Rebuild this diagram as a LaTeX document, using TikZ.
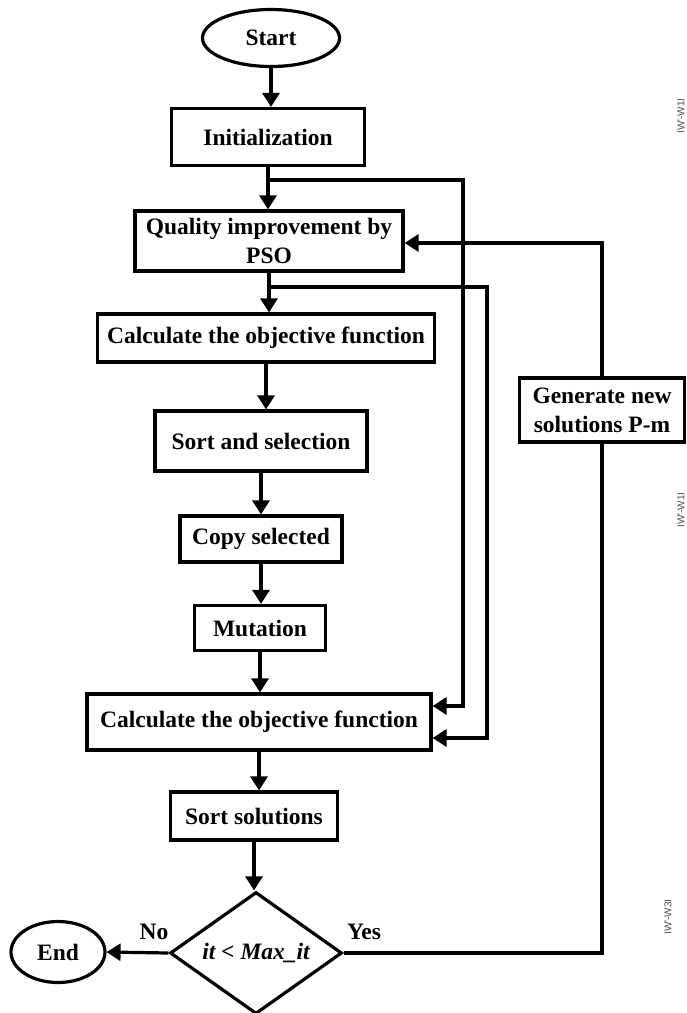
\documentclass[tikz,border=0pt]{standalone}
\usepackage{fontspec}
\setmainfont{Liberation Serif}
\newfontfamily\tagfont{Liberation Sans}
\usetikzlibrary{shapes.geometric,arrows.meta}
\begin{document}
\begin{tikzpicture}[x=1pt,y=-1pt,
  every node/.style={font=\fontsize{23.5}{29}\selectfont\bfseries},
  box/.style={draw,line width=3.2pt,fill=white,align=center,inner sep=0pt},
  oval/.style={draw,ellipse,line width=3.2pt,fill=white,inner sep=0pt},
  choice/.style={draw,diamond,line width=3.2pt,fill=white,inner sep=0pt,aspect=1.4},
  wire/.style={line width=3.2pt},
  arr/.style={line width=3.2pt,-{Triangle[length=14pt,width=17pt]}},
  tag/.style={font=\tagfont\fontsize{10}{11}\selectfont,text=black!70,rotate=90}
]
\useasboundingbox (0,0) rectangle (687,1013);

% main column
\node[oval,minimum width=137pt,minimum height=57pt] (start) at (271,38) {Start};
\node[box,minimum width=193pt,minimum height=57pt] (init) at (268,137) {Initialization};
\node[box,minimum width=268pt,minimum height=60pt] (qual) at (269,241) {Quality improvement by\\PSO};
\node[box,minimum width=337pt,minimum height=48pt] (calc1) at (266,338) {Calculate the objective function};
\node[box,minimum width=212pt,minimum height=60pt] (sortsel) at (261,441) {Sort and selection};
\node[box,minimum width=162pt,minimum height=46pt] (copy) at (261,539) {Copy selected};
\node[box,minimum width=131pt,minimum height=45pt] (mut) at (260,628) {Mutation};
\node[box,minimum width=344pt,minimum height=56pt] (calc2) at (259,722) {Calculate the objective function};
\node[box,minimum width=167pt,minimum height=48pt] (sortsol) at (254,816) {Sort solutions};
\node[choice,minimum width=172pt,minimum height=122pt] (dia) at (256,953) {\itshape it < Max\_it};
\node[oval,minimum width=94pt,minimum height=61pt] (end) at (58,952) {End};
\node[box,minimum width=165pt,minimum height=64pt] (gen) at (602,410) {Generate new\\solutions P-m};

% labels on the decision
\node at (154,932) {No};
\node at (364,932) {Yes};

% side tags
\node[tag] at (681,116) {IW'-W1I};
\node[tag] at (681,510) {IW'-W1I};
\node[tag] at (668,917) {IW'-W3I};

% straight flow
\draw[arr] (start.south) -- (start.south |- init.north);
\draw[arr] (init.south) -- (init.south |- qual.north);
\draw[arr] (qual.south) -- (qual.south |- calc1.north);
\draw[arr] (calc1.south) -- (calc1.south |- sortsel.north);
\draw[arr] (sortsel.south) -- (sortsel.south |- copy.north);
\draw[arr] (copy.south) -- (copy.south |- mut.north);
\draw[arr] (mut.south) -- (mut.south |- calc2.north);
\draw[arr] (calc2.south) -- (calc2.south |- sortsol.north);
\draw[arr] (sortsol.south) -- (sortsol.south |- dia.north);
\draw[arr] (dia.west) -- (end.east);

% bypass branches into the second evaluation
\coordinate (b1) at (268,180);
\coordinate (r1) at (463,180);
\draw[arr] (b1) -- (r1) |- ([yshift=16pt]calc2.east);
\coordinate (b2) at (269,287);
\coordinate (r2) at (487,287);
\draw[arr] (b2) -- (r2) |- ([yshift=-16pt]calc2.east);

% loop back
\draw[wire] (dia.east) -| (gen.south);
\draw[arr] (gen.north) |- ([yshift=-2pt]qual.east);
\end{tikzpicture}
\end{document}
